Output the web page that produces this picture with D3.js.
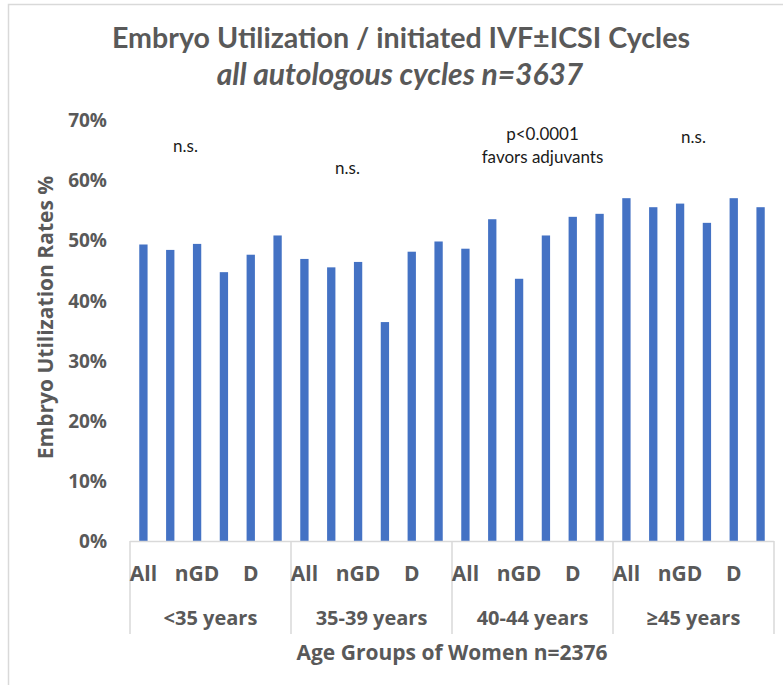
<!DOCTYPE html>
<html>
<head>
<meta charset="utf-8">
<script src="https://cdn.jsdelivr.net/npm/d3@7"></script>
<style>
  body { margin: 0; background: #fff; }
  svg { display: block; }
  .axis-text { font-family: "Open Sans", Lato, sans-serif; font-weight: bold; fill: #595959; }
  .note { font-family: Lato, "Open Sans", sans-serif; fill: #1a1a1a; font-size: 17px; }
</style>
</head>
<body>
<div id="chart"></div>
<script>
;(function() {
  'use strict';

  // Age groups (outer categories) and the sub-categories inside each one.
  var groups = ['<35 years', '35-39 years', '40-44 years', '\u226545 years'];
  // Excel only printed every other label, the rest are blank.
  var subLabels = ['All', '', 'nGD', '', 'D', ''];

  // Embryo utilization rates, one list per age group (fractions).
  var ratesUnder35 = [0.493, 0.484, 0.494, 0.447, 0.476, 0.508];
  var rates35to39  = [0.469, 0.455, 0.464, 0.364, 0.481, 0.498];
  var rates40to44  = [0.486, 0.535, 0.436, 0.508, 0.539, 0.544];
  var rates45plus  = [0.570, 0.555, 0.561, 0.529, 0.570, 0.555];

  var yTicks = [0, 0.1, 0.2, 0.3, 0.4, 0.5, 0.6, 0.7];

  // Significance notes written above each group.
  var notes = [
    ['n.s.'],
    ['n.s.'],
    ['p<0.0001', 'favors adjuvants'],
    ['n.s.']
  ];

  var seriesByGroup = [ratesUnder35, rates35to39, rates40to44, rates45plus];

  var width = 783, height = 685;
  var margin = {top: 120, bottom: 144, left: 130, right: 9};
  var chartW = width - margin.left - margin.right;
  var chartH = height - margin.top - margin.bottom;

  var data = [];
  groups.forEach(function(g, gi) {
    seriesByGroup[gi].forEach(function(v, si) {
      data.push({group: g, sub: si, value: v});
    });
  });

  var svg = d3.select('#chart').append('svg')
      .attr('width', width)
      .attr('height', height);

  // Outer frame of the pasted chart (cut off at right and bottom).
  svg.append('rect')
      .attr('x', 8.5).attr('y', 4.5)
      .attr('width', 900).attr('height', 900)
      .attr('fill', 'none')
      .attr('stroke', '#d9d9d9')
      .attr('stroke-width', 1.5);

  svg.append('text')
      .attr('x', 401).attr('y', 48)
      .attr('text-anchor', 'middle')
      .style('font-family', 'Lato, "Open Sans", sans-serif')
      .style('font-weight', 'bold')
      .style('font-size', '28.6px')
      .style('fill', '#595959')
      .text('Embryo Utilization / initiated IVF\u00b1ICSI Cycles');

  svg.append('text')
      .attr('x', 400).attr('y', 85)
      .attr('text-anchor', 'middle')
      .style('font-family', 'Lato, "Open Sans", sans-serif')
      .style('font-weight', 'bold')
      .style('font-style', 'italic')
      .style('font-size', '30px')
      .style('fill', '#595959')
      .text('all autologous cycles n=3637');

  var inner = svg.append('g')
      .attr('transform', translation(margin.left, margin.top));

  var x0 = d3.scaleBand().domain(groups).range([0, chartW]).padding(0);
  var x1 = d3.scaleBand().domain(d3.range(subLabels.length))
      .range([0, x0.bandwidth()])
      .paddingInner(0.69)
      .paddingOuter(0.345);
  var y = d3.scaleLinear().domain([0, 0.7]).range([chartH, 0]);

  // Y axis: labels only.
  var yAxis = d3.axisLeft(y)
      .tickValues(yTicks)
      .tickSize(0)
      .tickPadding(23)
      .tickFormat(d3.format('.0%'));
  var gy = inner.append('g').call(yAxis);
  gy.select('.domain').remove();
  gy.selectAll('text')
      .attr('class', 'axis-text')
      .style('font-size', '19px')
      .attr('dy', '0.35em');

  // Bars.
  inner.selectAll('.bar').data(data).enter()
      .append('rect')
      .attr('class', 'bar')
      .attr('x', function(d) { return x0(d.group) + x1(d.sub); })
      .attr('y', function(d) { return y(d.value); })
      .attr('width', x1.bandwidth())
      .attr('height', function(d) { return chartH - y(d.value); })
      .attr('fill', '#4472c4');

  // Category axis line and group dividers.
  inner.append('line')
      .attr('x1', 0).attr('x2', chartW)
      .attr('y1', chartH + 0.5).attr('y2', chartH + 0.5)
      .attr('stroke', '#d9d9d9').attr('stroke-width', 1.5);

  var dividers = groups.map(function(g) { return x0(g); }).concat([chartW]);
  inner.selectAll('.divider').data(dividers).enter()
      .append('line')
      .attr('x1', function(d) { return d; })
      .attr('x2', function(d) { return d; })
      .attr('y1', chartH).attr('y2', chartH + 93)
      .attr('stroke', '#d9d9d9').attr('stroke-width', 1.5);

  // Sub-category labels.
  var subData = [];
  groups.forEach(function(g) {
    subLabels.forEach(function(s, si) {
      if (s) subData.push({group: g, sub: si, label: s});
    });
  });
  inner.selectAll('.sub-label').data(subData).enter()
      .append('text')
      .attr('class', 'axis-text')
      .attr('x', function(d) { return x0(d.group) + x1(d.sub) + x1.bandwidth() / 2; })
      .attr('y', chartH + 40)
      .attr('text-anchor', 'middle')
      .style('font-size', '21px')
      .text(function(d) { return d.label; });

  // Group labels.
  inner.selectAll('.group-label').data(groups).enter()
      .append('text')
      .attr('class', 'axis-text')
      .attr('x', function(d) { return x0(d) + x0.bandwidth() / 2; })
      .attr('y', chartH + 84)
      .attr('text-anchor', 'middle')
      .style('font-size', '20px')
      .text(function(d) { return d; });

  // Axis titles.
  inner.append('text')
      .attr('class', 'axis-text')
      .attr('x', chartW / 2)
      .attr('y', chartH + 119)
      .attr('text-anchor', 'middle')
      .style('font-size', '21px')
      .text('Age Groups of Women n=2376');

  svg.append('text')
      .attr('class', 'axis-text')
      .attr('transform', 'translate(53,317.5) rotate(-90)')
      .attr('text-anchor', 'middle')
      .style('font-size', '21px')
      .text('Embryo Utilization Rates %');

  // Significance notes: shift from group centre and baseline of first line.
  var noteShift = [-25, -24, 10, 0];
  var noteBase = [152, 174, 140, 143];
  notes.forEach(function(lines, gi) {
    var cx = x0(groups[gi]) + x0.bandwidth() / 2 + noteShift[gi];
    var t = inner.append('text')
        .attr('class', 'note')
        .attr('text-anchor', 'middle')
        .attr('x', cx)
        .attr('y', noteBase[gi] - margin.top);
    lines.forEach(function(line, li) {
      t.append('tspan')
          .attr('x', cx)
          .attr('dy', li === 0 ? 0 : 23)
          .text(line);
    });
  });

  function translation(x, y) {
    return 'translate(' + x + ',' + y + ')';
  }
}());
</script>
</body>
</html>
